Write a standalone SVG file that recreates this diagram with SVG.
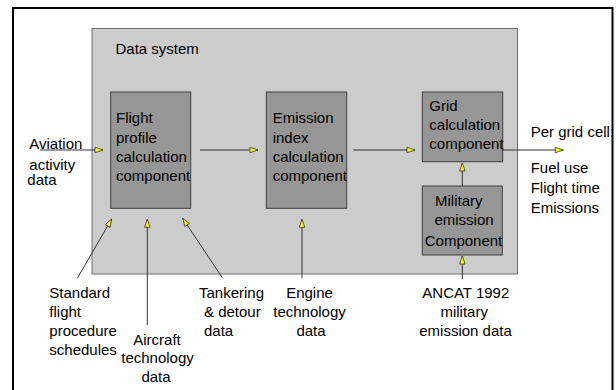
<svg xmlns="http://www.w3.org/2000/svg" width="616" height="390" viewBox="0 0 616 390">
<style>
text{font-family:"Liberation Sans",Arial,sans-serif;font-size:15px;fill:#000}
.comp{fill:#969696;stroke:#404040;stroke-width:1}
.conn{stroke:#333;stroke-width:1;fill:none;marker-end:url(#ah)}
.mid{text-anchor:middle}
</style>
<defs>
<marker id="ah" markerUnits="userSpaceOnUse" markerWidth="10" markerHeight="8" refX="8" refY="2.75" orient="auto" viewBox="-1 -1 10 7.5">
<path d="M0,0 L8,2.75 L0,5.5 Z" fill="#ffff00" stroke="#333" stroke-width="0.8"/>
</marker>
</defs>
<rect x="0" y="0" width="616" height="390" fill="#fff"/>
<rect id="frame" x="13" y="8" width="599.5" height="400" fill="#fff" stroke="#000" stroke-width="2"/>
<g id="data-system">
<rect x="92" y="28.5" width="425.5" height="245.5" fill="#cccccc" stroke="#707070" stroke-width="1"/>
<text x="115.5" y="54">Data system</text>
</g>
<g id="flight-profile">
<rect class="comp" x="110.7" y="92" width="80" height="116.3"/>
<text x="116" y="123.3">Flight</text>
<text x="116" y="142.5">profile</text>
<text x="116" y="161.5">calculation</text>
<text x="116" y="180.7">component</text>
</g>
<g id="emission-index">
<rect class="comp" x="266.3" y="92" width="80.4" height="116.3"/>
<text x="272.7" y="123.3">Emission</text>
<text x="272.7" y="142.5">index</text>
<text x="272.7" y="161.5">calculation</text>
<text x="272.7" y="180.7">component</text>
</g>
<g id="grid-calculation">
<rect class="comp" x="422.3" y="92" width="80.4" height="69.7"/>
<text x="429.3" y="111">Grid</text>
<text x="429.3" y="129.5">calculation</text>
<text x="429.3" y="149">component</text>
</g>
<g id="military-emission">
<rect class="comp" x="422.3" y="186" width="80" height="69"/>
<text x="435" y="205.5">Military</text>
<text class="mid" x="464" y="225">emission</text>
<text class="mid" x="463.5" y="246">Component</text>
</g>
<g id="aviation-activity">
<text x="29.3" y="149">Aviation</text>
<text x="29.3" y="169.5">activity</text>
<text x="27.3" y="185">data</text>
</g>
<g id="output">
<text x="530.7" y="137.3">Per grid cell:</text>
<text x="530.7" y="173.3">Fuel use</text>
<text x="530.7" y="192.5">Flight time</text>
<text x="530.7" y="212.5">Emissions</text>
</g>
<g id="standard-flight">
<text x="49.3" y="297.7">Standard</text>
<text x="49.3" y="316.7">flight</text>
<text x="49.3" y="336">procedure</text>
<text x="49.3" y="355">schedules</text>
</g>
<g id="aircraft-technology">
<text class="mid" x="157" y="345">Aircraft</text>
<text class="mid" x="157.5" y="363.3">technology</text>
<text class="mid" x="156" y="381.7">data</text>
</g>
<g id="tankering">
<text x="199" y="297.7">Tankering</text>
<text x="204" y="316.7">&amp; detour</text>
<text x="204" y="336">data</text>
</g>
<g id="engine-technology">
<text class="mid" x="309.5" y="297.7">Engine</text>
<text class="mid" x="309.5" y="316.7">technology</text>
<text class="mid" x="311" y="336">data</text>
</g>
<g id="ancat">
<text class="mid" x="465.8" y="297.7">ANCAT 1992</text>
<text class="mid" x="464.2" y="316.7">military</text>
<text class="mid" x="465.5" y="336">emission data</text>
</g>
<g id="connectors">
<line class="conn" x1="40" y1="150" x2="103" y2="150"/>
<line class="conn" x1="200" y1="150" x2="258" y2="150"/>
<line class="conn" x1="353.3" y1="150" x2="415" y2="150"/>
<line class="conn" x1="501.7" y1="150" x2="563.3" y2="150"/>
<line class="conn" x1="462.3" y1="186" x2="462.3" y2="163"/>
<line class="conn" x1="462.3" y1="279" x2="462.3" y2="256"/>
<line class="conn" x1="77.3" y1="278.3" x2="111.7" y2="219"/>
<line class="conn" x1="147.3" y1="325" x2="147.3" y2="219.3"/>
<line class="conn" x1="222.7" y1="278.3" x2="182.7" y2="218.3"/>
<line class="conn" x1="302" y1="278.3" x2="302" y2="219.3"/>
</g>
</svg>
